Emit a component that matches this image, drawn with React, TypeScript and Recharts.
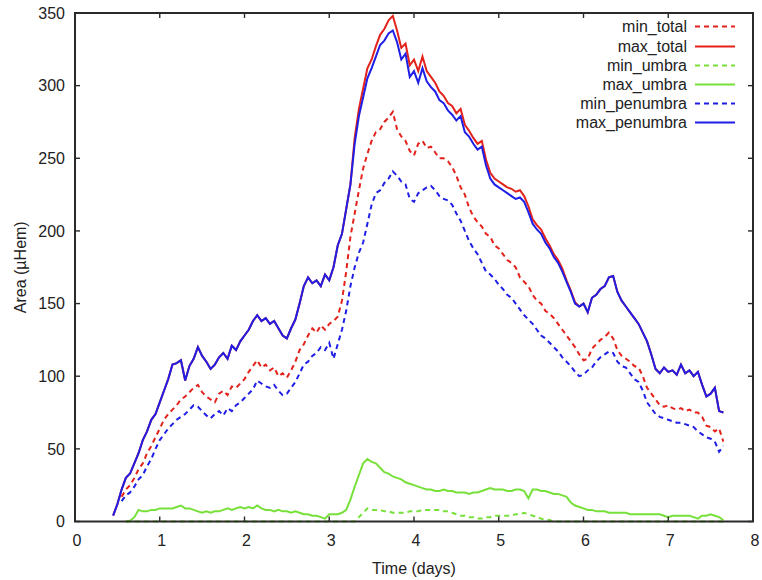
import { LineChart, Line, XAxis, YAxis } from "recharts"

// sampling grid (days)
const days = [
  0.45, 0.5, 0.55, 0.6, 0.65, 0.7, 0.75, 0.8, 0.85, 0.9,
  0.95, 1.0, 1.05, 1.1, 1.15, 1.2, 1.25, 1.3, 1.35, 1.4,
  1.45, 1.5, 1.55, 1.6, 1.65, 1.7, 1.75, 1.8, 1.85, 1.9,
  1.95, 2.0, 2.05, 2.1, 2.15, 2.2, 2.25, 2.3, 2.35, 2.4,
  2.45, 2.5, 2.55, 2.6, 2.65, 2.7, 2.75, 2.8, 2.85, 2.9,
  2.95, 3.0, 3.05, 3.1, 3.15, 3.2, 3.25, 3.3, 3.35, 3.4,
  3.45, 3.5, 3.55, 3.6, 3.65, 3.7, 3.75, 3.8, 3.85, 3.9,
  3.95, 4.0, 4.05, 4.1, 4.15, 4.2, 4.25, 4.3, 4.35, 4.4,
  4.45, 4.5, 4.55, 4.6, 4.65, 4.7, 4.75, 4.8, 4.85, 4.9,
  4.95, 5.0, 5.05, 5.1, 5.15, 5.2, 5.25, 5.3, 5.35, 5.4,
  5.45, 5.5, 5.55, 5.6, 5.65, 5.7, 5.75, 5.8, 5.85, 5.9,
  5.95, 6.0, 6.05, 6.1, 6.15, 6.2, 6.25, 6.3, 6.35, 6.4,
  6.45, 6.5, 6.55, 6.6, 6.65, 6.7, 6.75, 6.8, 6.85, 6.9,
  6.95, 7.0, 7.05, 7.1, 7.15, 7.2, 7.25, 7.3, 7.35, 7.4,
  7.45, 7.5, 7.55, 7.6, 7.65,
]

const minTotal = [
  null, null, 17, 22, 25, 30, 36, 40, 47, 52,
  58, 64, 70, 74, 77, 80, 84, 86, 89, 92,
  94, 89, 86, 84, 82, 88, 90, 87, 93, 92,
  95, 98, 103, 107, 111, 106, 108, 104, 106, 100,
  102, 99, 104, 110, 118, 122, 128, 133, 130, 135,
  132, 136, 138, 141, 152, 172, 196, 212, 228, 243,
  253, 262, 268, 270, 275, 278, 282, 270, 265, 262,
  255, 252, 260, 262, 257, 258, 254, 250, 250, 248,
  244, 238, 230, 225, 216, 210, 206, 203, 198, 196,
  190, 188, 184, 180, 178, 175, 168, 165, 162, 156,
  152, 150, 145, 143, 140, 136, 132, 128, 124, 120,
  115, 111, 112, 119, 122, 125, 127, 130, 126, 118,
  114, 112, 110, 107, 106, 100, 92, 88, 84, 80,
  79, 80, 78, 77, 78, 76, 77, 75, 75, 72,
  66, 65, 62, 64, 55,
]

const maxTotal = [
  4, 12, 22, 30, 33, 40, 47, 56, 62, 70,
  74, 82, 90, 98, 108, 109, 111, 97, 107, 112,
  120, 114, 110, 105, 108, 113, 116, 112, 121, 118,
  124, 128, 132, 138, 142, 138, 140, 136, 138, 133,
  128, 126, 133, 139, 150, 162, 168, 164, 166, 162,
  170, 166, 175, 190, 198, 215, 232, 264, 284, 298,
  312, 318, 327, 335, 339, 345, 348, 338, 326, 329,
  314, 318, 310, 320, 310, 306, 302, 296, 293, 288,
  286, 281, 284, 273, 269, 264, 260, 262, 249, 240,
  236, 234, 232, 230, 229, 227, 228, 224, 217, 208,
  204, 201, 195, 190, 184, 180, 174, 166, 159, 151,
  148, 150, 144, 154, 156, 160, 162, 168, 169, 158,
  152, 148, 144, 140, 136, 130, 124, 115, 105, 102,
  106, 103, 104, 101, 108, 102, 104, 100, 103, 94,
  86, 88, 92, 76, 75,
]

const minUmbra = [
  null, null, null, 0, 0, 0, 0, 0, 0, 0,
  0, 0, 0, 0, 0, 0, 0, 0, 0, 0,
  0, 0, 0, 0, 0, 0, 0, 0, 0, 0,
  0, 0, 0, 0, 0, 0, 0, 0, 0, 0,
  0, 0, 0, 0, 0, 0, 0, 0, 0, 0,
  0, 0, 0, 0, 0, 0, 0, 0, 3, 6,
  9, 8, 8, 8, 7, 7, 6, 6, 6, 6,
  7, 7, 7, 8, 8, 8, 8, 8, 7, 7,
  6, 5, 4, 4, 3, 3, 2, 2, 3, 3,
  4, 4, 4, 4, 4, 5, 5, 6, 5, 4,
  3, 2, 1, 1, 0, 0, 0, 0, 0, 0,
  0, 0, 0, 0, 0, 0, 0, 0, 0, 0,
  0, 0, 0, 0, 0, 0, 0, 0, 0, 0,
  0, 0, 0, 0, 0, 0, 0, 0, 0, 0,
  0, 0, 0, 0, 0,
]

const maxUmbra = [
  null, null, null, 0, 0.5, 3, 8, 7, 7, 8,
  8, 9, 9, 9, 9, 10, 11, 9, 9, 8,
  7, 6, 7, 6, 7, 7, 8, 9, 8, 9,
  10, 9, 10, 9, 11, 9, 8, 8, 7, 8,
  7, 7, 6, 7, 6, 5, 5, 4, 4, 3,
  2, 5, 5, 5, 6, 8, 15, 24, 32, 40,
  43, 41, 40, 37, 34, 33, 31, 30, 29, 27,
  26, 25, 24, 23, 22, 22, 21, 21, 22, 21,
  21, 20, 20, 20, 19, 20, 20, 21, 22, 23,
  22, 22, 22, 21, 21, 22, 22, 21, 16, 22,
  22, 21, 21, 20, 19, 19, 18, 17, 13, 11,
  10, 9, 8, 8, 7, 7, 7, 6, 6, 6,
  6, 6, 5, 5, 5, 5, 5, 5, 5, 5,
  4, 3, 4, 4, 4, 4, 4, 3, 2, 4,
  4, 5, 4, 3, 1,
]

const minPenumbra = [
  null, null, 14, 18, 20, 24, 29, 32, 38, 43,
  50, 56, 60, 64, 67, 70, 72, 74, 77, 80,
  79, 76, 73, 71, 74, 76, 73, 78, 76, 80,
  82, 85, 88, 91, 97, 95, 93, 92, 94, 90,
  87, 88, 92, 96, 102, 108, 110, 114, 116, 120,
  118, 123, 112, 122, 132, 145, 162, 175, 185, 192,
  205, 218, 226, 228, 233, 236, 241, 238, 234, 232,
  222, 220, 226, 228, 230, 231, 228, 224, 222, 221,
  218, 212, 207, 200, 193, 188, 184, 178, 172, 170,
  167, 163, 160, 156, 154, 150, 146, 142, 139, 136,
  132, 128, 126, 123, 120, 117, 113, 110, 107, 103,
  100, 101, 104, 106, 110, 113, 115, 117, 116, 110,
  107, 106, 102, 98, 96, 90, 82, 78, 74, 72,
  71, 70, 69, 68, 68, 67, 66, 65, 62, 60,
  58, 57, 55, 48, 52,
]

const maxPenumbra = [
  4, 12, 22, 30, 33, 40, 47, 56, 62, 70,
  74, 82, 90, 98, 108, 109, 111, 97, 107, 112,
  120, 114, 110, 105, 108, 113, 116, 112, 121, 118,
  124, 128, 132, 138, 142, 138, 140, 136, 138, 133,
  128, 126, 133, 139, 150, 162, 168, 164, 166, 162,
  170, 166, 175, 190, 198, 215, 232, 260, 279, 292,
  305, 312, 320, 328, 331, 336, 338, 330, 318, 322,
  306, 310, 302, 312, 303, 299, 296, 290, 288, 283,
  280, 276, 279, 268, 265, 260, 256, 258, 245, 236,
  232, 230, 228, 226, 224, 222, 223, 220, 213, 205,
  201, 198, 192, 188, 182, 178, 172, 165, 158, 150,
  148, 150, 144, 154, 156, 160, 162, 168, 169, 158,
  152, 148, 144, 140, 136, 130, 124, 115, 105, 102,
  106, 103, 104, 101, 108, 102, 104, 100, 103, 94,
  86, 88, 92, 76, 75,
]

const xTicks = [0, 1, 2, 3, 4, 5, 6, 7, 8]
const yTicks = [0, 50, 100, 150, 200, 250, 300, 350]

const X_MAX = 8
const Y_MAX = 350

// plot box inside the 762x580 chart
const W = 762
const H = 580
const M = { top: 13, right: 9, bottom: 3.5, left: 0 }
const Y_AXIS_W = 75
const X_AXIS_H = 55
const PLOT = {
  left: M.left + Y_AXIS_W,
  top: M.top,
  right: W - M.right,
  bottom: H - M.bottom - X_AXIS_H,
}

const RED = "#e3221b"
const GREEN = "#78e03a"
const BLUE = "#1e1ee6"

const series = [
  { key: "minTotal", name: "min_total", color: RED, dash: "5 4" },
  { key: "maxTotal", name: "max_total", color: RED, dash: undefined },
  { key: "minUmbra", name: "min_umbra", color: GREEN, dash: "5 4" },
  { key: "maxUmbra", name: "max_umbra", color: GREEN, dash: undefined },
  { key: "minPenumbra", name: "min_penumbra", color: BLUE, dash: "5 4" },
  { key: "maxPenumbra", name: "max_penumbra", color: BLUE, dash: undefined },
]

const data = days.map((t, i) => ({
  t,
  minTotal: minTotal[i],
  maxTotal: maxTotal[i],
  minUmbra: minUmbra[i],
  maxUmbra: maxUmbra[i],
  minPenumbra: minPenumbra[i],
  maxPenumbra: maxPenumbra[i],
}))

const axisColor = "#2a2a2a"
const tickStyle = { fontSize: 16, fill: "#222" }

// gnuplot-style frame with inward ticks on all four sides
const Frame = () => {
  const px = (k: number) => PLOT.left + (k / X_MAX) * (PLOT.right - PLOT.left)
  const py = (v: number) => PLOT.bottom - (v / Y_MAX) * (PLOT.bottom - PLOT.top)
  const T = 5
  return (
    <svg width={W} height={H} style={{ position: "absolute", left: 0, top: 0, pointerEvents: "none" }}>
      <rect x={PLOT.left} y={PLOT.top} width={PLOT.right - PLOT.left} height={PLOT.bottom - PLOT.top} fill="none" stroke={axisColor} strokeWidth={2} />
      {xTicks.map(k => (
        <g key={"x" + k} stroke={axisColor} strokeWidth={1.4}>
          <line x1={px(k)} x2={px(k)} y1={PLOT.bottom} y2={PLOT.bottom - T} />
          <line x1={px(k)} x2={px(k)} y1={PLOT.top} y2={PLOT.top + T} />
        </g>
      ))}
      {yTicks.map(v => (
        <g key={"y" + v} stroke={axisColor} strokeWidth={1.4}>
          <line x1={PLOT.left} x2={PLOT.left + T} y1={py(v)} y2={py(v)} />
          <line x1={PLOT.right} x2={PLOT.right - T} y1={py(v)} y2={py(v)} />
        </g>
      ))}
    </svg>
  )
}

const Legend = () => (
  <div style={{ position: "absolute", left: 480, top: 17.4, width: 255, fontSize: 16, color: "#222" }}>
    {series.map(s => (
      <div key={s.key} style={{ display: "flex", justifyContent: "flex-end", alignItems: "center", height: 19.2, lineHeight: "19.2px" }}>
        <span>{s.name}</span>
        <svg width={48} height={19.2} style={{ display: "block" }}>
          <line x1={8} x2={48} y1={9.6} y2={9.6} stroke={s.color} strokeWidth={2} strokeDasharray={s.dash} />
        </svg>
      </div>
    ))}
  </div>
)

export default function App() {
  return (
    <div style={{ position: "absolute", left: 0, top: 0, width: W, height: H, background: "#fff", fontFamily: "'Liberation Sans', Arial, sans-serif" }}>
      <LineChart width={W} height={H} data={data} margin={M}>
        <XAxis
          dataKey="t"
          type="number"
          domain={[0, X_MAX]}
          ticks={xTicks}
          height={X_AXIS_H}
          tickSize={0}
          tickLine={false}
          tickMargin={13.5}
          tick={{ ...tickStyle, dx: 2 }}
          axisLine={false}
          label={{ value: "Time (days)", position: "insideBottom", offset: 3, fontSize: 16, fill: "#222" }}
        />
        <YAxis
          type="number"
          domain={[0, Y_MAX]}
          ticks={yTicks}
          width={Y_AXIS_W}
          tickSize={0}
          tickLine={false}
          tickMargin={10}
          tick={tickStyle}
          axisLine={false}
          label={{ value: "Area (µHem)", angle: -90, position: "insideLeft", offset: 20, fontSize: 16, fill: "#222", style: { textAnchor: "middle" } }}
        />
        {series.map(s => (
          <Line
            key={s.key}
            dataKey={s.key}
            name={s.name}
            type="linear"
            stroke={s.color}
            strokeWidth={2}
            strokeDasharray={s.dash}
            dot={false}
            activeDot={false}
            isAnimationActive={false}
          />
        ))}
      </LineChart>
      <Frame />
      <Legend />
    </div>
  )
}
